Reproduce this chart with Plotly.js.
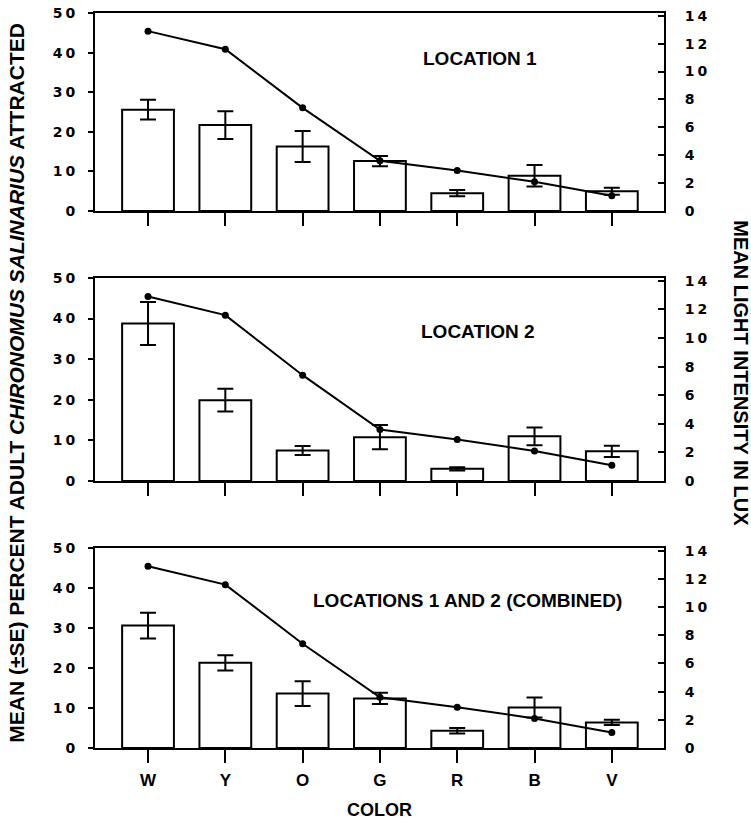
<!DOCTYPE html>
<html>
<head>
<meta charset="utf-8">
<script src="https://cdn.plot.ly/plotly-3.0.1.min.js"></script>
<style>
  html, body { margin: 0; padding: 0; background: #fff; }
  #chart { width: 751px; height: 824px; }
  g.ytick text, g.y2tick text, g.y3tick text, g.y4tick text, g.y5tick text, g.y6tick text { letter-spacing: 3px; }
</style>
</head>
<body>
<div id="chart"></div>
<script>
// Colour categories (x axis)
const colors = ['W', 'Y', 'O', 'G', 'R', 'B', 'V'];
// Mean light intensity in lux (right axis, same in all panels)
const light = [12.9, 11.6, 7.4, 3.6, 2.9, 2.1, 1.1];
// Location 1: mean percent attracted and SE
const loc1Mean = [25.6, 21.7, 16.3, 12.6, 4.5, 8.9, 5.0];
const loc1SE   = [2.5, 3.5, 3.9, 1.3, 0.8, 2.7, 0.9];
// Location 2
const loc2Mean = [38.8, 19.9, 7.5, 10.8, 3.0, 11.0, 7.3];
const loc2SE   = [5.3, 2.8, 1.1, 3.0, 0.4, 2.2, 1.4];
// Locations 1 and 2 combined
const combMean = [30.6, 21.3, 13.6, 12.4, 4.3, 10.1, 6.4];
const combSE   = [3.2, 1.9, 3.1, 1.4, 0.7, 2.5, 0.65];
// Panel labels
const panelLabels = ['LOCATION 1', 'LOCATION 2', 'LOCATIONS 1 AND 2 (COMBINED)'];
const leftTicks = [0, 10, 20, 30, 40, 50];
const rightTicks = [0, 2, 4, 6, 8, 10, 12, 14];

const TEXT_FONT = 'Liberation Sans, Arial, Helvetica, sans-serif';
const NUM_FONT = 'DejaVu Sans, Verdana, sans-serif';

const panels = [
  {mean: loc1Mean, se: loc1SE, x: 'x', y: 'y', y2: 'y2', label: panelLabels[0], lx: 4.3, ly: 38.6},
  {mean: loc2Mean, se: loc2SE, x: 'x2', y: 'y3', y2: 'y4', label: panelLabels[1], lx: 4.27, ly: 36.9},
  {mean: combMean, se: combSE, x: 'x3', y: 'y5', y2: 'y6', label: panelLabels[2], lx: 4.13, ly: 37.0}
];
const domains = [[0.7306, 1.0], [0.3633, 0.6395], [0.0, 0.2721]];

const traces = [];
panels.forEach(p => {
  traces.push({
    type: 'bar', x: colors, y: p.mean, xaxis: p.x, yaxis: p.y,
    width: 0.67,
    marker: {color: '#ffffff', line: {color: '#000000', width: 2}},
    error_y: {type: 'data', array: p.se, visible: true, color: '#000000', thickness: 2, width: 8},
    showlegend: false, hoverinfo: 'x+y'
  });
  traces.push({
    type: 'scatter', mode: 'lines+markers', x: colors, y: light, xaxis: p.x, yaxis: p.y2,
    line: {color: '#000000', width: 2},
    marker: {color: '#000000', size: 7},
    showlegend: false, hoverinfo: 'x+y'
  });
});

const layout = {
  width: 751, height: 824,
  margin: {l: 95, r: 87, t: 13, b: 76},
  paper_bgcolor: '#ffffff', plot_bgcolor: '#ffffff',
  showlegend: false,
  font: {family: TEXT_FONT, color: '#000000'},
  annotations: []
};

const xKeys = ['xaxis', 'xaxis2', 'xaxis3'];
const yKeys = [['yaxis', 'yaxis2'], ['yaxis3', 'yaxis4'], ['yaxis5', 'yaxis6']];
panels.forEach((p, i) => {
  layout[xKeys[i]] = {
    type: 'category', anchor: p.y, domain: [0, 1],
    range: [-0.686, 6.675],
    showline: true, mirror: true, linecolor: '#000', linewidth: 2,
    ticks: 'outside', ticklen: 13, tickwidth: 2, tickcolor: '#000',
    showticklabels: i === 2,
    tickfont: {family: TEXT_FONT, size: 17, color: '#000', weight: 'bold'},
    ticklabelstandoff: 3,
    showgrid: false, zeroline: false, fixedrange: true
  };
  layout[yKeys[i][0]] = {
    anchor: p.x, domain: domains[i], range: [0, 50],
    tickvals: leftTicks, ticktext: leftTicks.map(String),
    showline: true, mirror: false, linecolor: '#000', linewidth: 2,
    ticks: 'outside', ticklen: 5, tickwidth: 2, tickcolor: '#000',
    tickfont: {family: NUM_FONT, size: 14, color: '#000', weight: 'bold'},
    ticklabelstandoff: 7,
    showgrid: false, zeroline: false, fixedrange: true
  };
  layout[yKeys[i][1]] = {
    anchor: p.x, overlaying: p.y, side: 'right', range: [0, 14.2],
    tickvals: rightTicks, ticktext: rightTicks.map(String),
    showline: true, linecolor: '#000', linewidth: 2,
    ticks: 'inside', ticklen: 6, tickwidth: 2, tickcolor: '#000',
    tickfont: {family: NUM_FONT, size: 14, color: '#000', weight: 'bold'},
    ticklabelstandoff: 16,
    showgrid: false, zeroline: false, fixedrange: true
  };
  layout.annotations.push({
    xref: p.x, yref: p.y, x: p.lx, y: p.ly, text: p.label, showarrow: false,
    xanchor: 'center', yanchor: 'middle',
    font: {family: TEXT_FONT, size: 19, color: '#000', weight: 'bold'}
  });
});

layout.annotations.push({
  xref: 'paper', yref: 'paper', x: 0.5, y: -0.0844, text: 'COLOR', showarrow: false,
  xanchor: 'center', yanchor: 'middle',
  font: {family: TEXT_FONT, size: 18, color: '#000', weight: 'bold'}
});
layout.annotations.push({
  xref: 'paper', yref: 'paper', x: -0.137, y: 0.497,
  text: 'MEAN (±SE) PERCENT ADULT <i>CHIRONOMUS SALINARIUS</i> ATTRACTED',
  showarrow: false, textangle: -90, xanchor: 'center', yanchor: 'middle',
  font: {family: TEXT_FONT, size: 21, color: '#000', weight: 'bold'}
});
layout.annotations.push({
  xref: 'paper', yref: 'paper', x: 1.135, y: 0.510,
  text: 'MEAN LIGHT INTENSITY IN LUX',
  showarrow: false, textangle: 90, xanchor: 'center', yanchor: 'middle',
  font: {family: TEXT_FONT, size: 20, color: '#000', weight: 'bold'}
});

Plotly.newPlot('chart', traces, layout, {staticPlot: true, displayModeBar: false});
</script>
</body>
</html>
